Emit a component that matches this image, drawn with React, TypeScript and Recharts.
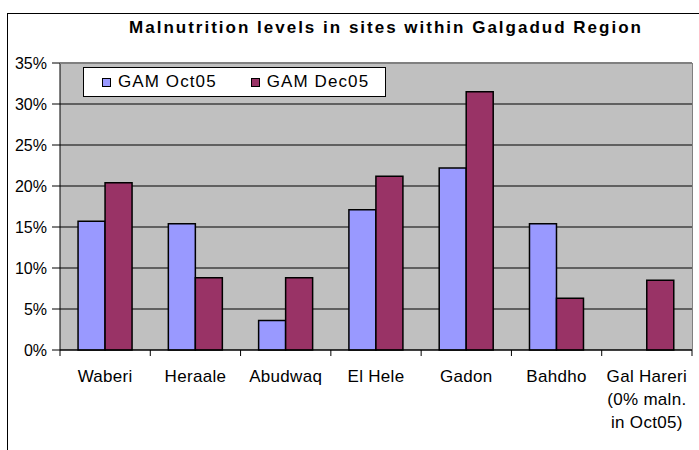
import React from 'react';
import { BarChart, Bar, XAxis, YAxis, CartesianGrid } from 'recharts';

const sites = ['Waberi', 'Heraale', 'Abudwaq', 'El Hele', 'Gadon', 'Bahdho', 'Gal Hareri\n(0% maln.\nin Oct05)'];
const gamOct05 = [15.7, 15.4, 3.6, 17.1, 22.2, 15.4, 0];
const gamDec05 = [20.4, 8.8, 8.8, 21.2, 31.5, 6.3, 8.5];
const yTicks = [0, 5, 10, 15, 20, 25, 30, 35];

const data = sites.map((site, i) => ({ site, oct: gamOct05[i], dec: gamDec05[i] }));

const FONT = 'Arial, "Liberation Sans", sans-serif';
const BLUE = '#9999FF';
const PLUM = '#993366';

function SiteTick(props: any) {
    const { x, y, payload, index } = props;
    const lines = String(payload.value).split('\n');
    const half = payload.offset || 0;
    return (
        <g>
            <line x1={x - half} x2={x - half} y1={y} y2={y + 6} stroke="#000" />
            {index === sites.length - 1 && (
                <line x1={x + half} x2={x + half} y1={y} y2={y + 6} stroke="#000" />
            )}
            <text textAnchor="middle" fontFamily={FONT} fontSize={17} letterSpacing={0.3} fill="#000">
                {lines.map((l, i) => (
                    <tspan key={i} x={x} y={y + 32 + i * 23}>{l}</tspan>
                ))}
            </text>
        </g>
    );
}

function LegendBox() {
    const item = (color: string, label: string, gap: number) => (
        <span style={{ display: 'inline-flex', alignItems: 'center', marginRight: gap }}>
            <span style={{ width: 7, height: 7, background: color, border: '1px solid #000', marginRight: 7 }} />
            <span>{label}</span>
        </span>
    );
    return (
        <div style={{
            position: 'absolute', left: 83, top: 67, width: 303, height: 30, boxSizing: 'border-box',
            background: '#fff', border: '1px solid #000', fontFamily: FONT, fontSize: 17, letterSpacing: 1.1,
            display: 'flex', alignItems: 'center', paddingLeft: 18, color: '#000'
        }}>
            {item(BLUE, 'GAM Oct05', 34)}
            {item(PLUM, 'GAM Dec05', 0)}
        </div>
    );
}

export default function App() {
    return (
        <div style={{ position: 'absolute', left: 0, top: 0, width: 699, height: 450, overflow: 'hidden', background: '#fff' }}>
            <div style={{ position: 'absolute', left: 7, top: 13, width: 720, height: 460, border: '1px solid #000', boxSizing: 'border-box' }} />
            <div style={{
                position: 'absolute', left: 0, top: 18, width: 772, textAlign: 'center',
                fontFamily: FONT, fontSize: 17, fontWeight: 'bold', letterSpacing: 2, color: '#000'
            }}>
                Malnutrition levels in sites within Galgadud Region
            </div>
            <div style={{ position: 'absolute', left: 0, top: 0 }}>
                <BarChart width={699} height={450} data={data} barCategoryGap="20%" barGap={0}
                    margin={{ top: 63, right: 7, left: 0, bottom: 0 }}>
                    <CartesianGrid vertical={false} stroke="#000" fill="#C0C0C0" />
                    <XAxis dataKey="site" height={100} interval={0} tickLine={false} tickSize={0} tickMargin={0}
                        axisLine={{ stroke: '#000' }} tick={<SiteTick />} />
                    <YAxis width={60} domain={[0, 35]} ticks={yTicks} interval={0} tickFormatter={(v) => `${v}%`}
                        axisLine={{ stroke: '#000' }} tickLine={{ stroke: '#000' }} tickSize={8} tickMargin={5}
                        tick={{ fontFamily: FONT, fontSize: 16, fill: '#000' }} />
                    <Bar dataKey="oct" name="GAM Oct05" fill={BLUE} stroke="#000" strokeWidth={1.5} isAnimationActive={false} />
                    <Bar dataKey="dec" name="GAM Dec05" fill={PLUM} stroke="#000" strokeWidth={1.5} isAnimationActive={false} />
                </BarChart>
            </div>
            <div style={{ position: 'absolute', left: 60, top: 63, width: 633, height: 288, border: '1px solid #808080', borderLeft: 'none', borderBottom: 'none', boxSizing: 'border-box', pointerEvents: 'none' }} />
            <LegendBox />
        </div>
    );
}
